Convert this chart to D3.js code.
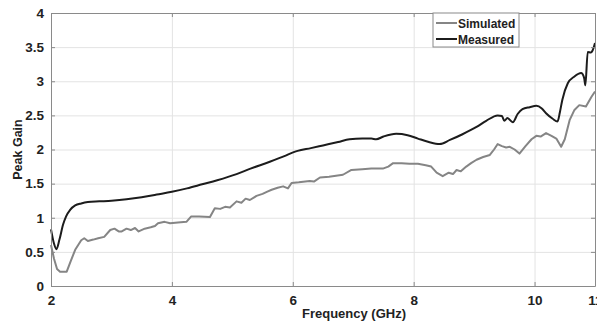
<!DOCTYPE html>
<html>
<head>
<meta charset="utf-8">
<script src="https://cdn.jsdelivr.net/npm/d3@7.9.0/dist/d3.min.js"></script>
<style>
  body { margin: 0; background: #fff; }
  svg { display: block; font-family: "Liberation Sans", Arial, sans-serif; font-weight: bold; }
</style>
</head>
<body>
<div id="chart"></div>
<script>
// Measured peak gain
const measuredFreq = [2, 2.05, 2.09, 2.14, 2.2, 2.25, 2.32, 2.4, 2.5, 2.61, 2.8, 3.0, 3.25, 3.5, 3.75, 4.0,
  4.25, 4.5, 4.75, 5.07, 5.3, 5.62, 5.85, 6.08, 6.3, 6.5, 6.75, 6.94, 7.15, 7.3, 7.38, 7.5, 7.71, 7.9,
  8.07, 8.25, 8.43, 8.6, 8.8, 9.04, 9.2, 9.39, 9.46, 9.5, 9.55, 9.64, 9.72, 9.8, 9.92, 10.03, 10.12,
  10.19, 10.3, 10.38, 10.42, 10.46, 10.55, 10.66, 10.77, 10.82, 10.84, 10.88, 10.93, 10.96, 11];
const measuredGain = [0.83, 0.62, 0.54, 0.68, 0.9, 1.02, 1.12, 1.18, 1.21, 1.23, 1.24, 1.25, 1.27, 1.3, 1.34, 1.38,
  1.43, 1.49, 1.55, 1.64, 1.72, 1.82, 1.9, 1.98, 2.02, 2.06, 2.11, 2.15, 2.16, 2.16, 2.15, 2.19, 2.23, 2.21,
  2.16, 2.11, 2.08, 2.14, 2.22, 2.33, 2.42, 2.5, 2.49, 2.42, 2.46, 2.4, 2.52, 2.59, 2.62, 2.64, 2.6,
  2.53, 2.45, 2.41, 2.55, 2.73, 2.97, 3.07, 3.12, 3.05, 2.94, 3.43, 3.42, 3.45, 3.56];

// Simulated peak gain
const simulatedFreq = [2, 2.05, 2.1, 2.15, 2.26, 2.32, 2.4, 2.5, 2.55, 2.61, 2.7, 2.78, 2.88, 2.98, 3.05, 3.12,
  3.17, 3.25, 3.32, 3.39, 3.45, 3.55, 3.65, 3.72, 3.77, 3.88, 3.97, 4.1, 4.24, 4.32, 4.45, 4.63, 4.71, 4.8,
  4.88, 4.96, 5.07, 5.15, 5.22, 5.29, 5.4, 5.5, 5.57, 5.65, 5.75, 5.84, 5.92, 5.98, 6.1, 6.28, 6.35, 6.45,
  6.6, 6.83, 6.97, 7.15, 7.3, 7.49, 7.58, 7.66, 7.8, 7.93, 8.07, 8.2, 8.29, 8.38, 8.48, 8.58, 8.65, 8.71,
  8.78, 8.87, 8.95, 9.04, 9.15, 9.26, 9.33, 9.39, 9.46, 9.53, 9.59, 9.67, 9.75, 9.85, 9.95, 10.03, 10.1,
  10.19, 10.28, 10.36, 10.44, 10.5, 10.58, 10.66, 10.74, 10.85, 10.94, 11];
const simulatedGain = [0.6, 0.4, 0.25, 0.21, 0.21, 0.35, 0.53, 0.67, 0.7, 0.66, 0.68, 0.7, 0.72, 0.82, 0.84, 0.8,
  0.8, 0.84, 0.82, 0.85, 0.8, 0.84, 0.86, 0.88, 0.92, 0.94, 0.92, 0.93, 0.94, 1.02, 1.02, 1.01, 1.14, 1.13,
  1.16, 1.15, 1.24, 1.22, 1.28, 1.26, 1.32, 1.35, 1.38, 1.41, 1.44, 1.46, 1.43, 1.51, 1.52, 1.54, 1.53, 1.59,
  1.6, 1.63, 1.7, 1.71, 1.72, 1.72, 1.75, 1.8, 1.8, 1.79, 1.79, 1.77, 1.75, 1.66, 1.61, 1.66, 1.64, 1.7,
  1.68, 1.75, 1.8, 1.85, 1.89, 1.92, 2.0, 2.08, 2.05, 2.03, 2.04, 2.0, 1.94, 2.05, 2.15, 2.2, 2.19,
  2.24, 2.2, 2.16, 2.04, 2.15, 2.43, 2.58, 2.65, 2.63, 2.77, 2.85];

const xTicks = [2, 4, 6, 8, 10, 11];
const yTicks = [0, 0.5, 1, 1.5, 2, 2.5, 3, 3.5, 4];
const seriesNames = ['Simulated', 'Measured'];

const width = 597, height = 322;
const margin = { top: 13, right: 2, bottom: 36, left: 51 };

const svg = d3.select('#chart').append('svg')
  .attr('width', width).attr('height', height);

const xScale = d3.scaleLinear().domain([2, 11]).range([margin.left, width - margin.right]);
const yScale = d3.scaleLinear().domain([0, 4]).range([height - margin.bottom, margin.top]);

const plotLeft = margin.left, plotRight = width - margin.right;
const plotTop = margin.top, plotBottom = height - margin.bottom;
const fmt = d3.format('~g');

// gridlines
svg.append('g')
  .attr('transform', `translate(${plotLeft},0)`)
  .call(d3.axisLeft(yScale).tickValues(yTicks).tickFormat('').tickSize(-(plotRight - plotLeft)))
  .call(g => g.select('.domain').remove())
  .call(g => g.selectAll('line').attr('stroke', '#e3e3e3'));
svg.append('g')
  .attr('transform', `translate(0,${plotBottom})`)
  .call(d3.axisBottom(xScale).tickValues(xTicks.slice(0, 5)).tickFormat('').tickSize(-(plotBottom - plotTop)))
  .call(g => g.select('.domain').remove())
  .call(g => g.selectAll('line').attr('stroke', '#e3e3e3'));

// lines
const line = d3.line().x(d => xScale(d[0])).y(d => yScale(d[1]));
svg.append('path')
  .datum(d3.zip(simulatedFreq, simulatedGain))
  .attr('fill', 'none').attr('stroke', '#858585').attr('stroke-width', 2)
  .attr('stroke-linejoin', 'round')
  .attr('d', line);
svg.append('path')
  .datum(d3.zip(measuredFreq, measuredGain))
  .attr('fill', 'none').attr('stroke', '#1c1c1c').attr('stroke-width', 2)
  .attr('stroke-linejoin', 'round')
  .attr('d', line.curve(d3.curveMonotoneX));

// axes box with inward ticks
const axisColor = '#8a8a8a';
const axes = svg.append('g').attr('class', 'axes');
axes.append('g')
  .attr('transform', `translate(0,${plotBottom})`)
  .call(d3.axisBottom(xScale).tickValues(xTicks).tickFormat(fmt).tickSizeInner(-4).tickSizeOuter(0).tickPadding(9));
axes.append('g')
  .attr('transform', `translate(${plotLeft},0)`)
  .call(d3.axisLeft(yScale).tickValues(yTicks).tickFormat(fmt).tickSizeInner(-4).tickSizeOuter(0).tickPadding(7));
axes.append('g')
  .attr('transform', `translate(0,${plotTop})`)
  .call(d3.axisTop(xScale).tickValues(xTicks).tickSizeInner(-4).tickSizeOuter(0).tickFormat(''));
axes.append('g')
  .attr('transform', `translate(${plotRight},0)`)
  .call(d3.axisRight(yScale).tickValues(yTicks).tickSizeInner(-4).tickSizeOuter(0).tickFormat(''));

axes.selectAll('.domain').attr('stroke', axisColor);
axes.selectAll('.tick line').attr('stroke', axisColor);
axes.selectAll('.tick text')
  .attr('font-family', '"Liberation Sans", Arial, sans-serif')
  .attr('font-weight', 'bold').attr('font-size', 13.5).attr('fill', '#222');

// axis titles
svg.append('text')
  .attr('x', 354).attr('y', 318)
  .attr('text-anchor', 'middle').attr('font-size', 13).attr('fill', '#222')
  .text('Frequency (GHz)');
svg.append('text')
  .attr('transform', `translate(22,${(plotTop + plotBottom) / 2}) rotate(-90)`)
  .attr('text-anchor', 'middle').attr('font-size', 12.5).attr('fill', '#222')
  .text('Peak Gain');

// legend
const legend = svg.append('g').attr('transform', 'translate(433,13)');
legend.append('rect')
  .attr('width', 86).attr('height', 34)
  .attr('fill', '#fff').attr('stroke', '#8a8a8a').attr('stroke-width', 1);
const legendColors = ['#858585', '#1c1c1c'];
seriesNames.forEach((name, i) => {
  const y = 10 + i * 16;
  legend.append('line')
    .attr('x1', 3).attr('x2', 24).attr('y1', y).attr('y2', y)
    .attr('stroke', legendColors[i]).attr('stroke-width', 2);
  legend.append('text')
    .attr('x', 25).attr('y', y + 4.5)
    .attr('font-size', 12).attr('fill', '#222')
    .text(name);
});
</script>
</body>
</html>
